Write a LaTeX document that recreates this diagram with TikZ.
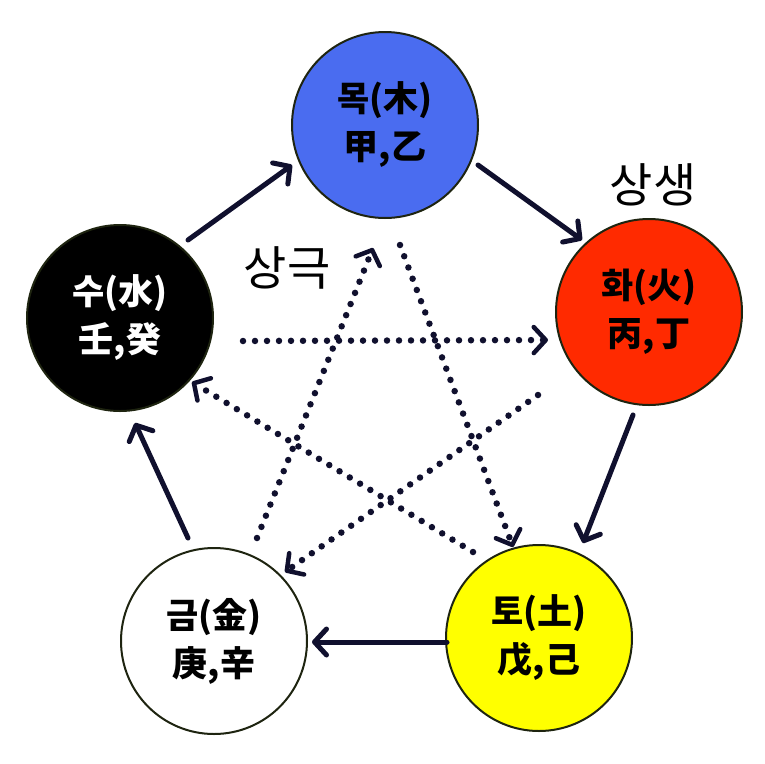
\documentclass[tikz,border=0pt]{standalone}
\usepackage{fontspec}
\newfontfamily\kr{Noto Sans CJK KR}
\usetikzlibrary{arrows.meta,calc}
\definecolor{navy}{HTML}{10102E}
\definecolor{mokblue}{HTML}{4A6CF0}
\definecolor{hwared}{HTML}{FF2A00}
\definecolor{toyellow}{HTML}{FFFF00}
\definecolor{rim}{HTML}{1E2410}
\tikzset{
  elem/.style={circle, draw=rim, line width=2pt, minimum size=186pt, inner sep=0pt, outer sep=0pt,
    align=center, font=\kr\bfseries\fontsize{35}{48}\selectfont},
  sheng/.style={draw=navy, line width=5pt, line cap=round,
    -{Straight Barb[length=12pt,width=26pt,line width=5pt,line join=round,line cap=round]}},
  ke/.style={draw=navy, line width=6.5pt, line cap=round, dash pattern=on 0pt off 12pt,
    -{Straight Barb[length=12pt,width=26pt,line width=4.5pt,line join=round,line cap=round]}},
  lbl/.style={font=\kr\fontsize{47}{50}\selectfont, text=black, inner sep=0pt}
}
\begin{document}
\begin{tikzpicture}[x=1pt,y=-1pt]
\useasboundingbox (0,0) rectangle (764,764);
\node[elem, fill=mokblue, text=black] (mok) at (385,125) {목(木)\\甲,乙};
\node[elem, fill=hwared, text=black] (hwa) at (649,312) {화(火)\\丙,丁};
\node[elem, fill=toyellow, text=black] (to) at (539,638) {토(土)\\戊,己};
\node[elem, fill=white, text=black] (geum) at (214,641) {금(金)\\庚,辛};
\node[elem, fill=black, text=white] (su) at (120,318) {수(水)\\壬,癸};
\node[lbl] (sangsaeng) at (653,185) {상생};
\node[lbl] (sanggeuk) at (287,268) {상극};
% generating cycle
\draw[sheng] ($(su)+(68,-78)$) -- ($(mok)+(-93,40)$);
\draw[sheng] ($(mok)+(93,40)$) -- ($(hwa)+(-67,-72)$);
\draw[sheng] ($(hwa)+(-16,103)$) -- ($(to)+(44,-95)$);
\draw[sheng] ($(to)+(-92,4)$) -- ($(geum)+(98,1)$);
\draw[sheng] ($(geum)+(-26,-103)$) -- ($(su)+(15,105)$);
% controlling cycle
\draw[ke] ($(mok)+(15,120)$) -- ($(to)+(-26,-91)$);
\draw[ke] ($(to)+(-66,-86)$) -- ($(su)+(72,64)$);
\draw[ke] ($(su)+(123,23)$) -- ($(hwa)+(-101,28)$);
\draw[ke] ($(hwa)+(-111,83)$) -- ($(geum)+(71,-69)$);
\draw[ke] ($(geum)+(43,-103)$) -- ($(mok)+(-12,123)$);
\end{tikzpicture}
\end{document}
